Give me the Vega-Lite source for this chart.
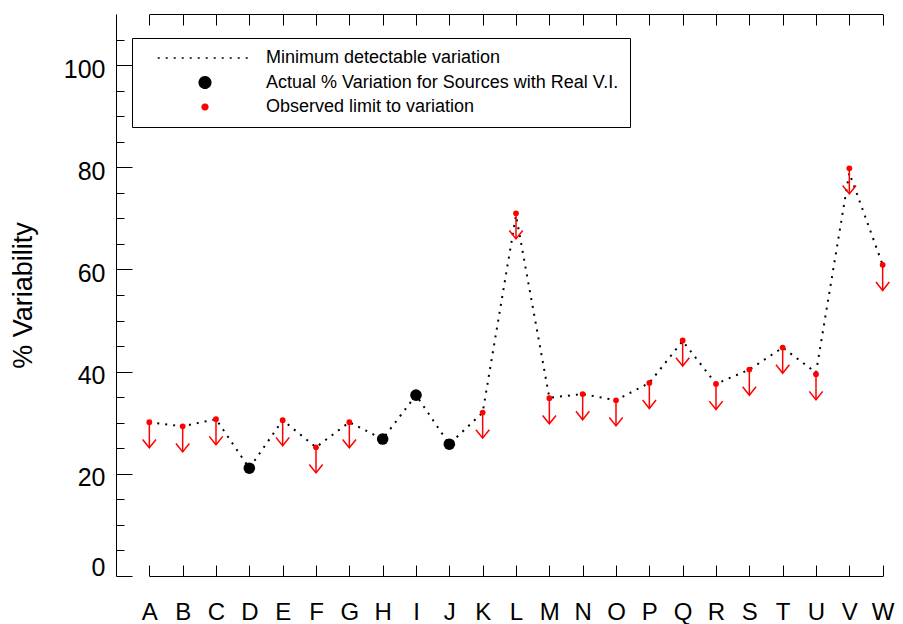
{
  "$schema": "https://vega.github.io/schema/vega-lite/v6.json",
  "width": 787,
  "height": 562,
  "autosize": {"type": "none"},
  "padding": {"left": 116, "top": 14, "right": 0, "bottom": 48},
  "background": "white",
  "config": {
    "view": {"stroke": null},
    "font": "Liberation Sans",
    "axis": {
      "grid": false,
      "domainColor": "black",
      "tickColor": "black",
      "labelColor": "black",
      "titleColor": "black",
      "labelFont": "Liberation Sans",
      "titleFont": "Liberation Sans",
      "domainWidth": 1,
      "tickWidth": 1
    },
    "legend": {
      "labelFont": "Liberation Sans",
      "labelFontSize": 18,
      "labelColor": "black",
      "labelLimit": 0
    }
  },
  "datasets": {
    "minimum": [
      {"src": "A", "value": 30.1, "series": "Minimum detectable variation"},
      {"src": "B", "value": 29.3, "series": "Minimum detectable variation"},
      {"src": "C", "value": 30.7, "series": "Minimum detectable variation"},
      {"src": "D", "value": 21.1, "series": "Minimum detectable variation"},
      {"src": "E", "value": 30.5, "series": "Minimum detectable variation"},
      {"src": "F", "value": 25.2, "series": "Minimum detectable variation"},
      {"src": "G", "value": 30.1, "series": "Minimum detectable variation"},
      {"src": "H", "value": 26.8, "series": "Minimum detectable variation"},
      {"src": "I", "value": 35.4, "series": "Minimum detectable variation"},
      {"src": "J", "value": 25.8, "series": "Minimum detectable variation"},
      {"src": "K", "value": 32.0, "series": "Minimum detectable variation"},
      {"src": "L", "value": 70.6, "series": "Minimum detectable variation"},
      {"src": "M", "value": 34.9, "series": "Minimum detectable variation"},
      {"src": "N", "value": 35.6, "series": "Minimum detectable variation"},
      {"src": "O", "value": 34.4, "series": "Minimum detectable variation"},
      {"src": "P", "value": 37.8, "series": "Minimum detectable variation"},
      {"src": "Q", "value": 46.0, "series": "Minimum detectable variation"},
      {"src": "R", "value": 37.6, "series": "Minimum detectable variation"},
      {"src": "S", "value": 40.4, "series": "Minimum detectable variation"},
      {"src": "T", "value": 44.7, "series": "Minimum detectable variation"},
      {"src": "U", "value": 39.8, "series": "Minimum detectable variation"},
      {"src": "V", "value": 78.9, "series": "Minimum detectable variation"},
      {"src": "W", "value": 60.9, "series": "Minimum detectable variation"}
    ],
    "sources": [
      {"src": "A", "value": 30.1, "series": "Observed limit to variation"},
      {"src": "B", "value": 29.3, "series": "Observed limit to variation"},
      {"src": "C", "value": 30.7, "series": "Observed limit to variation"},
      {"src": "D", "value": 21.1, "series": "Actual % Variation for Sources with Real V.I."},
      {"src": "E", "value": 30.5, "series": "Observed limit to variation"},
      {"src": "F", "value": 25.2, "series": "Observed limit to variation"},
      {"src": "G", "value": 30.1, "series": "Observed limit to variation"},
      {"src": "H", "value": 26.8, "series": "Actual % Variation for Sources with Real V.I."},
      {"src": "I", "value": 35.4, "series": "Actual % Variation for Sources with Real V.I."},
      {"src": "J", "value": 25.8, "series": "Actual % Variation for Sources with Real V.I."},
      {"src": "K", "value": 32.0, "series": "Observed limit to variation"},
      {"src": "L", "value": 71.0, "series": "Observed limit to variation"},
      {"src": "M", "value": 34.8, "series": "Observed limit to variation"},
      {"src": "N", "value": 35.6, "series": "Observed limit to variation"},
      {"src": "O", "value": 34.4, "series": "Observed limit to variation"},
      {"src": "P", "value": 37.8, "series": "Observed limit to variation"},
      {"src": "Q", "value": 46.1, "series": "Observed limit to variation"},
      {"src": "R", "value": 37.6, "series": "Observed limit to variation"},
      {"src": "S", "value": 40.4, "series": "Observed limit to variation"},
      {"src": "T", "value": 44.7, "series": "Observed limit to variation"},
      {"src": "U", "value": 39.5, "series": "Observed limit to variation"},
      {"src": "V", "value": 79.8, "series": "Observed limit to variation"},
      {"src": "W", "value": 60.9, "series": "Observed limit to variation"}
    ]
  },
  "layer": [
    {
      "data": {"name": "minimum"},
      "mark": {"type": "line", "strokeWidth": 2, "strokeCap": "butt"},
      "encoding": {
        "x": {
          "field": "src", "type": "nominal",
          "scale": {"type": "point", "range": [33.33, 766.67], "padding": 0},
          "axis": {"orient": "bottom", "title": null, "labelAngle": 0, "labelFontSize": 24, "tickSize": -11, "labelPadding": 35}
        },
        "y": {
          "field": "value", "type": "quantitative",
          "scale": {"domain": [0, 110], "nice": false, "zero": true},
          "axis": {
            "orient": "left", "values": [0, 20, 40, 60, 80, 100], "tickSize": -16, "labelPadding": 27, "labelFontSize": 25,
            "labelOffset": {"condition": {"test": "datum.value === 0", "value": -9}, "value": 4},
            "title": "% Variability", "titleFontSize": 27, "titleFontWeight": "normal",
            "titleX": -93, "titleY": 281, "titleAngle": -90, "titleAlign": "center", "titleBaseline": "middle"
          }
        },
        "color": {
          "field": "series", "type": "nominal",
          "scale": {
            "domain": ["Minimum detectable variation", "Actual % Variation for Sources with Real V.I.", "Observed limit to variation"],
            "range": ["black", "black", "red"]
          },
          "legend": {
            "title": null, "orient": "none", "legendX": 16, "legendY": 24, "padding": 11,
            "strokeColor": "black", "fillColor": "white", "rowPadding": 6.5,
            "symbolOffset": 53, "labelOffset": 52, "symbolStrokeWidth": 1.5, "labelLimit": 0,
            "encode": {
              "symbols": {
                "update": {
                  "fill": {"scale": "color", "field": "value"},
                  "stroke": {"scale": "color", "field": "value"},
                  "strokeWidth": {"value": 1.5}
                }
              }
            }
          }
        },
        "strokeDash": {
          "field": "series", "type": "nominal",
          "scale": {
            "domain": ["Minimum detectable variation", "Actual % Variation for Sources with Real V.I.", "Observed limit to variation"],
            "range": [[2, 6], [1, 0], [1, 0]]
          }
        }
      }
    },
    {
      "data": {"name": "sources"},
      "transform": [{"filter": "datum.series === 'Observed limit to variation'"}],
      "mark": {"type": "rule", "color": "red", "strokeWidth": 1.5, "y2Offset": 25.6},
      "encoding": {
        "x": {
          "field": "src", "type": "nominal",
          "axis": {"orient": "top", "title": null, "labels": false, "tickSize": -11}
        },
        "y": {
          "field": "value", "type": "quantitative",
          "axis": {"orient": "left", "values": [5, 10, 15, 25, 30, 35, 45, 50, 55, 65, 70, 75, 85, 90, 95, 105], "tickSize": -8, "labels": false, "domain": false, "title": null}
        },
        "y2": {"field": "value"}
      }
    },
    {
      "data": {"name": "sources"},
      "transform": [{"filter": "datum.series === 'Observed limit to variation'"}],
      "mark": {"type": "point", "shape": "M-1,-1.25L0,0L1,-1.25", "filled": false, "stroke": "red", "strokeWidth": 1.5, "size": 180, "yOffset": 25.6, "opacity": 1},
      "encoding": {
        "x": {"field": "src", "type": "nominal", "axis": null},
        "y": {"field": "value", "type": "quantitative", "axis": null}
      }
    },
    {
      "data": {"name": "sources"},
      "mark": {"type": "point", "filled": true, "opacity": 1},
      "encoding": {
        "x": {"field": "src", "type": "nominal", "axis": null},
        "y": {"field": "value", "type": "quantitative", "axis": null},
        "color": {"field": "series", "type": "nominal"},
        "shape": {
          "field": "series", "type": "nominal",
          "scale": {
            "domain": ["Minimum detectable variation", "Actual % Variation for Sources with Real V.I.", "Observed limit to variation"],
            "range": ["M-12,0H12", "circle", "circle"]
          }
        },
        "size": {
          "field": "series", "type": "nominal",
          "scale": {
            "type": "ordinal",
            "domain": ["Minimum detectable variation", "Actual % Variation for Sources with Real V.I.", "Observed limit to variation"],
            "range": [62, 133, 33]
          }
        }
      }
    }
  ],
  "resolve": {"axis": {"x": "independent", "y": "independent"}}
}
